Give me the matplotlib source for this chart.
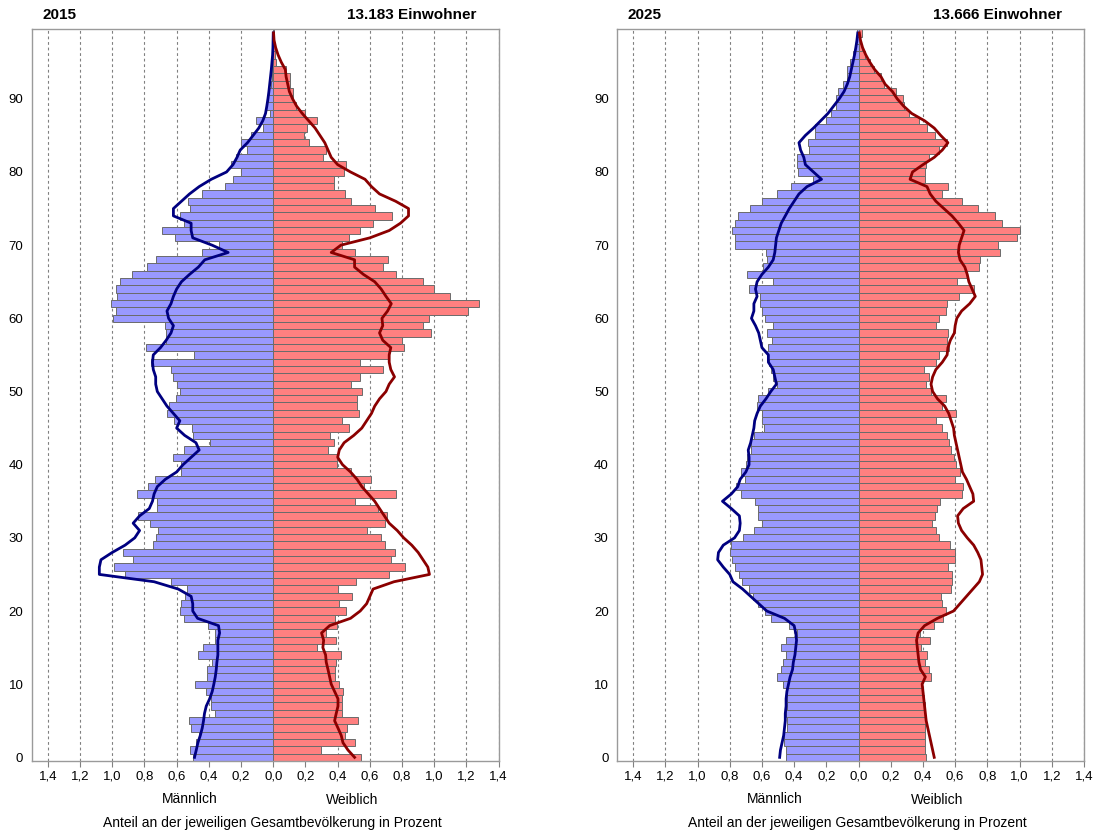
import matplotlib
matplotlib.use('Agg')
import matplotlib.pyplot as plt
import numpy as np

plt.rcParams['font.family'] = ['Liberation Sans', 'DejaVu Sans']

# Alter 0..99
ages = list(range(100))

# 2015: Anteile in Prozent (Balken)
male_2015 = [0.50, 0.515, 0.478, 0.462, 0.509, 0.524, 0.36, 0.385, 0.385, 0.416,
             0.489, 0.41, 0.41, 0.379, 0.468, 0.437, 0.364, 0.364, 0.406, 0.557,
             0.578, 0.571, 0.545, 0.536, 0.634, 0.923, 0.99, 0.872, 0.93, 0.745,
             0.729, 0.716, 0.764, 0.84, 0.72, 0.72, 0.847, 0.778, 0.737, 0.575,
             0.571, 0.623, 0.555, 0.395, 0.499, 0.503, 0.617, 0.66, 0.648, 0.602,
             0.578, 0.60, 0.62, 0.634, 0.758, 0.495, 0.789, 0.665, 0.669, 0.675,
             0.996, 0.979, 1.01, 0.971, 0.979, 0.95, 0.876, 0.785, 0.731, 0.443,
             0.34, 0.609, 0.692, 0.555, 0.58, 0.52, 0.53, 0.44, 0.30, 0.25,
             0.20, 0.265, 0.23, 0.16, 0.20, 0.14, 0.065, 0.105, 0.02, 0.045,
             0.03, 0.025, 0.012, 0.008, 0.005, 0.004, 0.003, 0.002, 0.001, 0.001]
female_2015 = [0.547, 0.294, 0.505, 0.447, 0.46, 0.526, 0.426, 0.426, 0.426, 0.433,
               0.408, 0.381, 0.381, 0.391, 0.418, 0.271, 0.391, 0.325, 0.395, 0.381,
               0.453, 0.408, 0.491, 0.40, 0.516, 0.72, 0.816, 0.733, 0.758, 0.696,
               0.671, 0.584, 0.692, 0.706, 0.65, 0.505, 0.76, 0.563, 0.609, 0.484,
               0.395, 0.395, 0.34, 0.38, 0.35, 0.47, 0.43, 0.53, 0.52, 0.52,
               0.55, 0.48, 0.54, 0.68, 0.54, 0.72, 0.81, 0.80, 0.98, 0.93,
               0.97, 1.21, 1.28, 1.10, 1.00, 0.93, 0.76, 0.68, 0.71, 0.51,
               0.43, 0.47, 0.54, 0.62, 0.74, 0.63, 0.48, 0.443, 0.377, 0.375,
               0.437, 0.449, 0.308, 0.325, 0.222, 0.188, 0.209, 0.271, 0.195, 0.139,
               0.122, 0.122, 0.106, 0.106, 0.08, 0.02, 0.012, 0.008, 0.004, 0.002]
# 2015: Vergleichslinien
male_line_2015 = [0.489, 0.478, 0.468, 0.453, 0.441, 0.433, 0.427, 0.416, 0.395, 0.379,
                  0.369, 0.36, 0.354, 0.35, 0.344, 0.344, 0.344, 0.333, 0.34, 0.47,
                  0.50, 0.50, 0.51, 0.59, 0.74, 1.08, 1.08, 1.07, 1.0, 0.92,
                  0.86, 0.83, 0.87, 0.83, 0.77, 0.75, 0.74, 0.72, 0.67, 0.60,
                  0.56, 0.51, 0.46, 0.48, 0.55, 0.60, 0.58, 0.62, 0.66, 0.69,
                  0.72, 0.73, 0.73, 0.745, 0.75, 0.745, 0.70, 0.665, 0.635, 0.62,
                  0.65, 0.66, 0.635, 0.62, 0.60, 0.57, 0.52, 0.465, 0.425, 0.28,
                  0.38, 0.50, 0.51, 0.51, 0.62, 0.62, 0.57, 0.52, 0.46, 0.385,
                  0.29, 0.25, 0.225, 0.205, 0.16, 0.125, 0.09, 0.065, 0.048, 0.04,
                  0.033, 0.027, 0.022, 0.017, 0.012, 0.008, 0.004, 0.002, 0.001, 0.0]
female_line_2015 = [0.505, 0.464, 0.433, 0.422, 0.402, 0.381, 0.391, 0.402, 0.402, 0.381,
                    0.36, 0.35, 0.34, 0.329, 0.325, 0.308, 0.313, 0.30, 0.35, 0.48,
                    0.54, 0.58, 0.60, 0.62, 0.75, 0.97, 0.96, 0.93, 0.90, 0.86,
                    0.81, 0.77, 0.72, 0.69, 0.66, 0.63, 0.59, 0.55, 0.52, 0.48,
                    0.43, 0.40, 0.41, 0.44, 0.50, 0.55, 0.58, 0.61, 0.63, 0.66,
                    0.70, 0.72, 0.753, 0.73, 0.72, 0.72, 0.73, 0.68, 0.66, 0.68,
                    0.675, 0.71, 0.733, 0.70, 0.67, 0.63, 0.56, 0.505, 0.505, 0.36,
                    0.42, 0.60, 0.72, 0.79, 0.84, 0.84, 0.76, 0.66, 0.61, 0.57,
                    0.48, 0.40, 0.36, 0.34, 0.32, 0.29, 0.26, 0.22, 0.18, 0.145,
                    0.12, 0.10, 0.09, 0.08, 0.075, 0.05, 0.03, 0.015, 0.005, 0.002]

# 2025
male_2025 = [0.449, 0.453, 0.46, 0.46, 0.447, 0.447, 0.453, 0.447, 0.443, 0.447,
             0.468, 0.505, 0.484, 0.468, 0.453, 0.484, 0.453, 0.385, 0.433, 0.542,
             0.578, 0.625, 0.654, 0.681, 0.723, 0.74, 0.77, 0.785, 0.80, 0.79,
             0.72, 0.647, 0.60, 0.625, 0.625, 0.64, 0.73, 0.76, 0.705, 0.728,
             0.70, 0.69, 0.67, 0.665, 0.65, 0.586, 0.60, 0.598, 0.63, 0.625,
             0.563, 0.505, 0.53, 0.543, 0.557, 0.567, 0.561, 0.54, 0.571, 0.53,
             0.584, 0.598, 0.615, 0.609, 0.681, 0.53, 0.695, 0.594, 0.567, 0.574,
             0.766, 0.766, 0.786, 0.77, 0.749, 0.673, 0.60, 0.505, 0.418, 0.284,
             0.377, 0.381, 0.385, 0.309, 0.313, 0.268, 0.268, 0.205, 0.174, 0.137,
             0.137, 0.128, 0.095, 0.07, 0.07, 0.05, 0.033, 0.025, 0.015, 0.01]
female_2025 = [0.416, 0.412, 0.412, 0.41, 0.412, 0.416, 0.412, 0.41, 0.406, 0.402,
               0.395, 0.451, 0.437, 0.41, 0.426, 0.385, 0.443, 0.381, 0.468, 0.526,
               0.54, 0.52, 0.509, 0.576, 0.582, 0.582, 0.557, 0.602, 0.596, 0.565,
               0.499, 0.484, 0.458, 0.472, 0.489, 0.505, 0.644, 0.648, 0.602, 0.627,
               0.606, 0.592, 0.571, 0.561, 0.55, 0.52, 0.478, 0.607, 0.52, 0.54,
               0.45, 0.42, 0.437, 0.406, 0.478, 0.499, 0.561, 0.55, 0.557, 0.478,
               0.499, 0.54, 0.55, 0.623, 0.714, 0.611, 0.673, 0.745, 0.756, 0.876,
               0.865, 0.985, 1.0, 0.89, 0.85, 0.74, 0.64, 0.52, 0.557, 0.41,
               0.41, 0.42, 0.44, 0.50, 0.551, 0.472, 0.422, 0.375, 0.313, 0.282,
               0.277, 0.23, 0.161, 0.137, 0.095, 0.07, 0.043, 0.023, 0.012, 0.02]
male_line_2025 = [0.49, 0.485, 0.475, 0.465, 0.46, 0.455, 0.455, 0.45, 0.45, 0.445,
                  0.435, 0.425, 0.41, 0.405, 0.395, 0.39, 0.385, 0.39, 0.40, 0.46,
                  0.57, 0.62, 0.67, 0.72, 0.78, 0.80, 0.84, 0.875, 0.87, 0.84,
                  0.77, 0.74, 0.735, 0.74, 0.79, 0.845, 0.79, 0.75, 0.735, 0.70,
                  0.68, 0.68, 0.685, 0.67, 0.66, 0.65, 0.645, 0.63, 0.61, 0.575,
                  0.545, 0.51, 0.52, 0.53, 0.56, 0.56, 0.60, 0.61, 0.62, 0.64,
                  0.665, 0.65, 0.65, 0.63, 0.64, 0.63, 0.60, 0.56, 0.53, 0.52,
                  0.515, 0.51, 0.495, 0.48, 0.455, 0.43, 0.40, 0.37, 0.32, 0.23,
                  0.28, 0.33, 0.34, 0.36, 0.37, 0.33, 0.28, 0.235, 0.19, 0.155,
                  0.12, 0.09, 0.07, 0.055, 0.045, 0.035, 0.025, 0.017, 0.01, 0.005]
female_line_2025 = [0.47, 0.46, 0.45, 0.44, 0.43, 0.42, 0.415, 0.41, 0.405, 0.40,
                    0.395, 0.415, 0.385, 0.375, 0.37, 0.365, 0.36, 0.37, 0.41, 0.49,
                    0.59, 0.63, 0.67, 0.71, 0.75, 0.77, 0.765, 0.76, 0.74, 0.715,
                    0.675, 0.64, 0.62, 0.615, 0.65, 0.715, 0.71, 0.69, 0.67, 0.645,
                    0.635, 0.625, 0.615, 0.605, 0.595, 0.59, 0.575, 0.56, 0.535, 0.49,
                    0.46, 0.45, 0.46, 0.48, 0.52, 0.55, 0.555, 0.57, 0.595, 0.60,
                    0.61, 0.64, 0.69, 0.725, 0.705, 0.685, 0.675, 0.66, 0.63, 0.62,
                    0.625, 0.64, 0.655, 0.62, 0.58, 0.53, 0.48, 0.445, 0.425, 0.32,
                    0.335, 0.40, 0.47, 0.52, 0.555, 0.51, 0.47, 0.41, 0.33, 0.28,
                    0.24, 0.21, 0.165, 0.14, 0.10, 0.07, 0.045, 0.025, 0.012, 0.005]

panels = [
    ('2015', '13.183 Einwohner', male_2015, female_2015, male_line_2015, female_line_2015),
    ('2025', '13.666 Einwohner', male_2025, female_2025, male_line_2025, female_line_2025),
]

xticks = [round(-1.4 + 0.2 * i, 1) for i in range(15)]
xticklabels = [('%.1f' % abs(t)).replace('.', ',') for t in xticks]

W, H = 1093, 832
fig = plt.figure(figsize=(W / 100, H / 100), dpi=100)

ax_left_px = [31.7, 617.0]
ax_w_px = 467.0
ax_top_px, ax_bot_px = 29.3, 761

for i, (year, total, male, female, mline, fline) in enumerate(panels):
    x0 = ax_left_px[i]
    ax = fig.add_axes([x0 / W, 1 - ax_bot_px / H, ax_w_px / W, (ax_bot_px - ax_top_px) / H])
    ax.barh(ages, [-v for v in male], height=1.0, color='#9999FF',
            edgecolor='#6b6b6b', linewidth=0.7, zorder=2)
    ax.barh(ages, female, height=1.0, color='#FF8080',
            edgecolor='#6b6b6b', linewidth=0.7, zorder=2)
    ax.plot([-v for v in mline], ages, color='#000080', linewidth=2.0, zorder=3)
    ax.plot(fline, ages, color='#8B0000', linewidth=2.0, zorder=3)

    ax.set_xlim(-1.5, 1.4)
    ax.set_ylim(-0.5, 99.5)
    ax.set_xticks(xticks)
    ax.set_xticklabels(xticklabels, fontsize=9.5)
    ax.set_yticks(range(0, 100, 10))
    ax.set_yticklabels([str(a) for a in range(0, 100, 10)], fontsize=9.5)
    ax.tick_params(axis='y', length=0, pad=6)
    ax.tick_params(axis='x', length=4, direction='out', color='#808080', pad=3)
    for t in xticks:
        ax.axvline(t, color='#808080', linestyle=(0, (2.5, 2.5)), linewidth=0.8, zorder=0)
    for s in ax.spines.values():
        s.set_color('#9a9a9a')
        s.set_linewidth(1.0)

    # Pixelposition der Nulllinie
    cx = x0 + 1.5 / 2.9 * ax_w_px
    fig.text((x0 + 11) / W, 1 - 15 / H, year, fontsize=11, fontweight='bold',
             ha='left', va='center')
    fig.text((cx + 203) / W, 1 - 15 / H, total, fontsize=11, fontweight='bold',
             ha='right', va='center')
    fig.text((cx - 84) / W, 1 - 799 / H, 'Männlich', fontsize=10, ha='center', va='center')
    fig.text((cx + 79) / W, 1 - 800 / H, 'Weiblich', fontsize=10, ha='center', va='center')
    fig.text((cx - 1) / W, 1 - 823 / H, 'Anteil an der jeweiligen Gesamtbevölkerung in Prozent',
             fontsize=10, ha='center', va='center')

fig.savefig('out.png', dpi=100)
